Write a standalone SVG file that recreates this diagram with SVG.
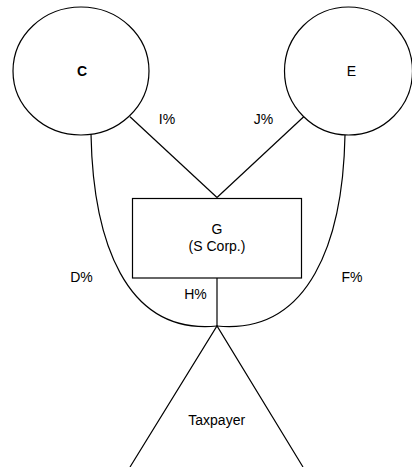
<svg xmlns="http://www.w3.org/2000/svg" width="412" height="467" viewBox="0 0 412 467">
<style>
.s{fill:none;stroke:#000;stroke-width:1.2}
.t{font-family:"Liberation Sans",Arial,sans-serif;font-size:14px;fill:#000;text-anchor:middle}
.b{font-weight:bold}
</style>
<rect width="412" height="467" fill="#fff"/>
<g id="connectors">
<line class="s" x1="130" y1="116.7" x2="217" y2="197.5"/>
<line class="s" x1="303.7" y1="116.7" x2="217" y2="197.5"/>
<path class="s" d="M91,134 C93,240 125,335 217,326"/>
<path class="s" d="M345,135 C343,240 310,335 217,326"/>
<line class="s" x1="217" y1="278" x2="217" y2="326"/>
<text class="t" x="167" y="123.5">I%</text>
<text class="t" x="263.5" y="123.5">J%</text>
<text class="t" x="81.5" y="282">D%</text>
<text class="t" x="352" y="282">F%</text>
<text class="t" x="195.5" y="298.5">H%</text>
</g>
<g id="C">
<ellipse class="s" cx="81" cy="71" rx="68" ry="64"/>
<text class="t b" x="82" y="76">C</text>
</g>
<g id="E">
<ellipse class="s" cx="348.5" cy="71" rx="64" ry="64"/>
<text class="t" x="351.5" y="75.5">E</text>
</g>
<g id="G">
<rect class="s" x="132.5" y="198.5" width="169" height="79.5"/>
<text class="t" x="217" y="233.5">G</text>
<text class="t" x="217" y="250.5">(S Corp.)</text>
</g>
<g id="Taxpayer">
<polyline class="s" points="130,467 217,326 303,467"/>
<text class="t" x="216.7" y="425">Taxpayer</text>
</g>
</svg>
